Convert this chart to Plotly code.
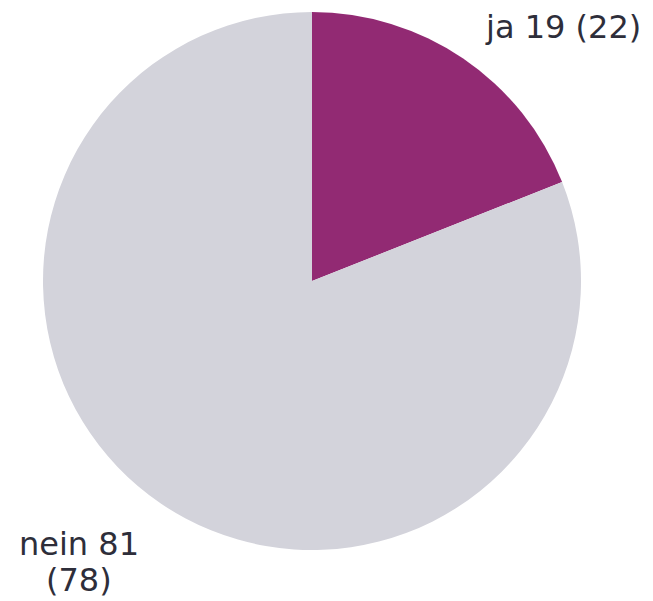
import plotly.graph_objects as go

categories = ["ja", "nein"]
values = [19, 81]
previous = [22, 78]
colors = ["#922A73", "#D3D3DB"]

W, H = 653, 601
OFF = 8  # page body margin shifts the figure by 8px

def px(x):
    return (x - OFF) / W

def py(y):
    return 1 - (y - OFF) / H

fig = go.Figure(go.Pie(
    labels=categories,
    values=values,
    sort=False,
    direction="clockwise",
    rotation=0,
    textinfo="none",
    hoverinfo="label+value",
    marker=dict(colors=colors, line=dict(width=0)),
    domain=dict(x=[px(43), px(581)], y=[py(550), py(12)]),
    showlegend=False,
))

font = dict(family="DejaVu Sans", size=32, color="#2E2E3A")
common = dict(xref="paper", yref="paper", xanchor="center", yanchor="middle",
              showarrow=False, font=font, borderpad=0)
fig.add_annotation(text=f"{categories[0]} {values[0]} ({previous[0]})",
                   x=px(563), y=py(27), **common)
fig.add_annotation(text=f"{categories[1]} {values[1]}",
                   x=px(79), y=py(544), **common)
fig.add_annotation(text=f"({previous[1]})",
                   x=px(79), y=py(580), **common)

fig.update_layout(width=W, height=H, margin=dict(l=0, r=0, t=0, b=0),
                  paper_bgcolor="white", plot_bgcolor="white")
fig.write_html("out.html")
